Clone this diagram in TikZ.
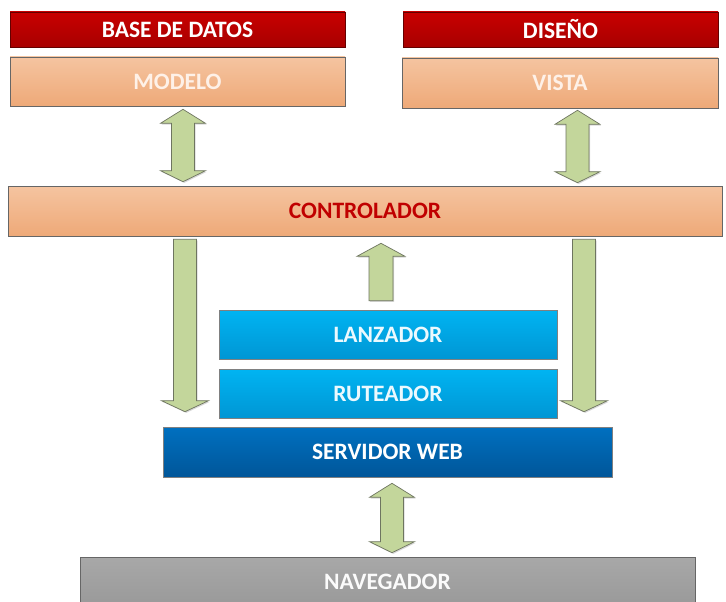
\documentclass[tikz,border=0pt]{standalone}
\usepackage{fontspec}
\setmainfont{Carlito}
\usetikzlibrary{shadows,calc}
\definecolor{redA}{HTML}{C80000}
\definecolor{redB}{HTML}{A80000}
\definecolor{orA}{HTML}{F5C4A0}
\definecolor{orB}{HTML}{EEA978}
\definecolor{orTxt}{HTML}{FEF1E8}
\definecolor{ctrlTxt}{HTML}{C00000}
\definecolor{ltA}{HTML}{00B4F2}
\definecolor{ltB}{HTML}{0096D4}
\definecolor{dkA}{HTML}{0070C0}
\definecolor{dkB}{HTML}{005699}
\definecolor{gyA}{HTML}{A8A8A8}
\definecolor{gyB}{HTML}{999999}
\definecolor{grn}{HTML}{C3D69B}
\definecolor{grnEdge}{HTML}{6E7560}
\tikzset{
  box/.style={rectangle, inner sep=0pt, draw=#1, line width=0.6pt,
    font=\fontsize{23.5}{26}\selectfont\bfseries,
    drop shadow={shadow xshift=1pt, shadow yshift=-1pt, opacity=0.25}},
  redbox/.style={box=redB!60!black, top color=redA, bottom color=redB, text=white},
  orbox/.style={box=black!60, top color=orA, bottom color=orB, text=orTxt},
  ltbox/.style={box=black!50, top color=ltA, bottom color=ltB, text=white!92!ltA},
  dkbox/.style={box=black!50, top color=dkA, bottom color=dkB, text=white},
  gybox/.style={box=black!60, top color=gyA, bottom color=gyB, text=white!95!gyA},
  blockarrow/.style={draw=grnEdge, fill=grn, line width=0.7pt, line join=miter,
    drop shadow={shadow xshift=1.2pt, shadow yshift=-1.2pt, opacity=0.3}}
}
% double vertical arrow: #1 x (pt), #2 top anchor, #3 bottom anchor, #4 top gap, #5 bottom gap
\newcommand\dblarrowblk[5]{%
  \draw[blockarrow] let \p1=(#2), \p2=(#3) in
    ({#1pt},{\y1-#4pt}) -- ({#1pt+22.5pt},{\y1-#4pt-14pt}) -- ({#1pt+11.5pt},{\y1-#4pt-14pt})
    -- ({#1pt+11.5pt},{\y2+#5pt+11pt}) -- ({#1pt+22.5pt},{\y2+#5pt+11pt}) -- ({#1pt},{\y2+#5pt})
    -- ({#1pt-22.5pt},{\y2+#5pt+11pt}) -- ({#1pt-11.5pt},{\y2+#5pt+11pt})
    -- ({#1pt-11.5pt},{\y1-#4pt-14pt}) -- ({#1pt-22.5pt},{\y1-#4pt-14pt}) -- cycle;}
% down arrow
\newcommand\downarrowblk[5]{%
  \draw[blockarrow] let \p1=(#2), \p2=(#3) in
    ({#1pt-11.5pt},{\y1-#4pt}) -- ({#1pt+11.5pt},{\y1-#4pt}) -- ({#1pt+11.5pt},{\y2+#5pt+11pt})
    -- ({#1pt+23.5pt},{\y2+#5pt+11pt}) -- ({#1pt},{\y2+#5pt}) -- ({#1pt-23.5pt},{\y2+#5pt+11pt})
    -- ({#1pt-11.5pt},{\y2+#5pt+11pt}) -- cycle;}
% up arrow
\newcommand\uparrowblk[5]{%
  \draw[blockarrow] let \p1=(#2), \p2=(#3) in
    ({#1pt},{\y1-#4pt}) -- ({#1pt+24pt},{\y1-#4pt-13pt}) -- ({#1pt+12pt},{\y1-#4pt-13pt})
    -- ({#1pt+12pt},{\y2+#5pt}) -- ({#1pt-12pt},{\y2+#5pt}) -- ({#1pt-12pt},{\y1-#4pt-13pt})
    -- ({#1pt-24pt},{\y1-#4pt-13pt}) -- cycle;}
\begin{document}
\begin{tikzpicture}[x=1pt,y=-1pt]
\useasboundingbox[fill=white] (0,0) rectangle (726,602);
\node[redbox, minimum width=335pt, minimum height=35pt] (bd) at (177.5,29.5) {BASE DE DATOS};
\node[redbox, minimum width=315pt, minimum height=35pt] (dis) at (560.5,29.5) {DISEÑO};
\node[orbox, minimum width=335pt, minimum height=49pt] (mod) at (177.5,81.5) {MODELO};
\node[orbox, minimum width=316pt, minimum height=50pt] (vis) at (560,83) {VISTA};
\node[orbox, text=ctrlTxt, minimum width=714pt, minimum height=50pt] (ctl) at (365,211) {CONTROLADOR};
\node[ltbox, minimum width=338pt, minimum height=49pt] (lan) at (388,334.5) {LANZADOR};
\node[ltbox, minimum width=338pt, minimum height=49pt] (rut) at (388,393.5) {RUTEADOR};
\node[dkbox, minimum width=449pt, minimum height=50pt] (srv) at (387.5,452) {SERVIDOR WEB};
\node[gybox, minimum width=615pt, minimum height=50pt] (nav) at (387.5,582) {NAVEGADOR};
\dblarrowblk{183}{mod.south}{ctl.north}{3}{4}
\dblarrowblk{577.5}{vis.south}{ctl.north}{2}{3}
\dblarrowblk{392}{srv.south}{nav.north}{6}{4}
\downarrowblk{185}{ctl.south}{srv.north}{3}{15}
\downarrowblk{584}{ctl.south}{srv.north}{3}{15}
\uparrowblk{381}{ctl.south}{lan.north}{7}{9}
\end{tikzpicture}
\end{document}
